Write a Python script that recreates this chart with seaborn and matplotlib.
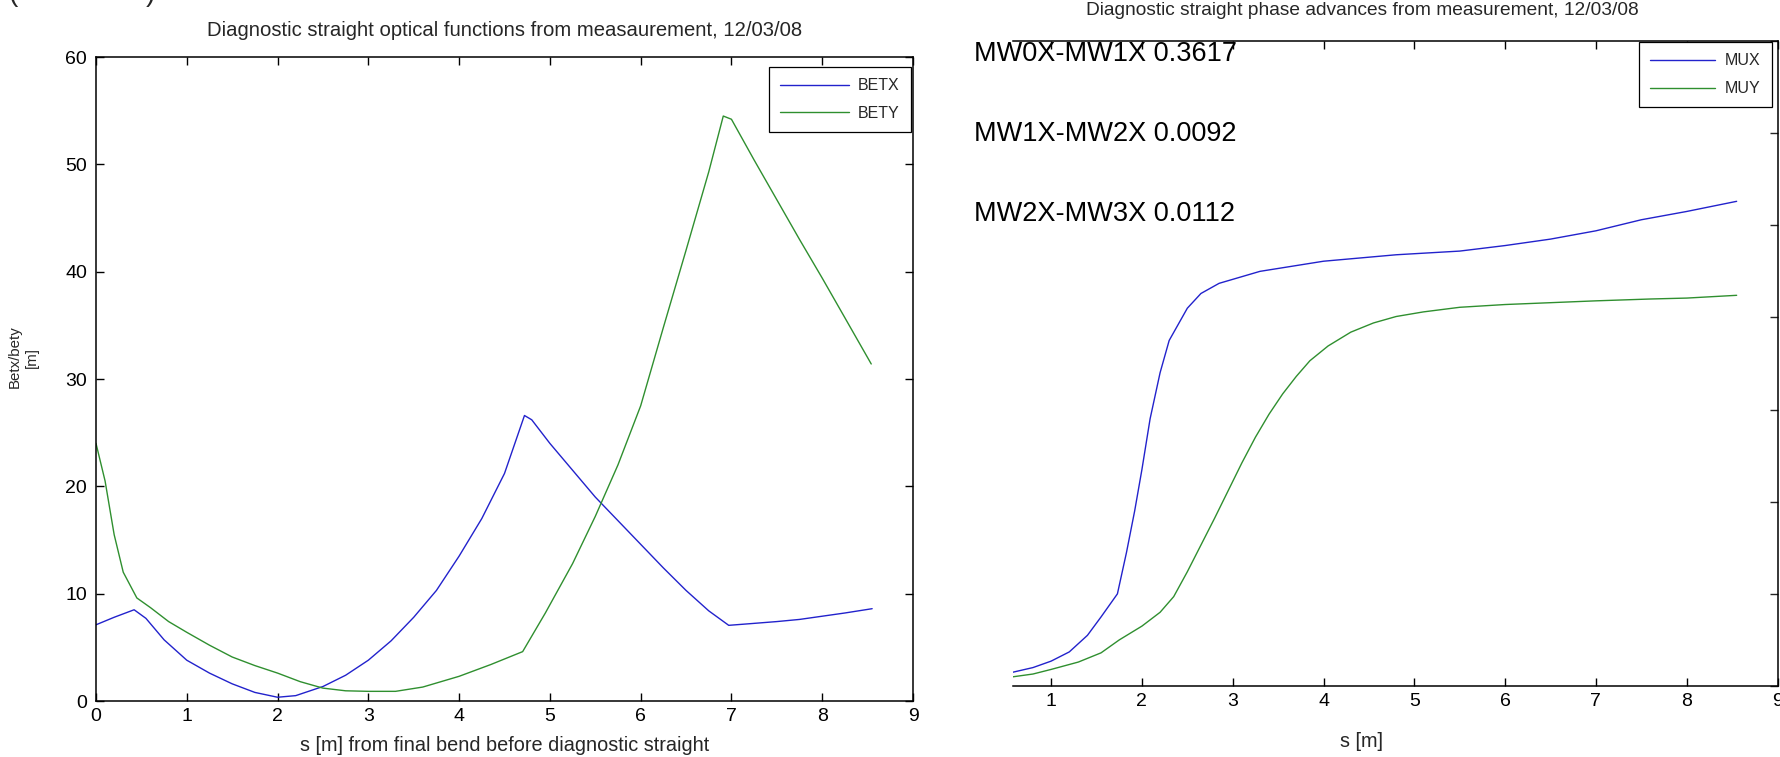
import matplotlib
matplotlib.use("Agg")
import matplotlib.pyplot as plt
import seaborn as sns

# optical functions (left panel)
s_betx = [0.0, 0.2, 0.42, 0.55, 0.75, 1.0, 1.25, 1.5, 1.75, 2.0, 2.2, 2.5, 2.75, 3.0, 3.25,
          3.5, 3.75, 4.0, 4.25, 4.5, 4.72, 4.8, 5.0, 5.25, 5.5, 5.75, 6.0, 6.25, 6.5, 6.75,
          6.97, 7.2, 7.5, 7.75, 8.0, 8.25, 8.55]
betx = [7.1, 7.8, 8.5, 7.7, 5.7, 3.8, 2.6, 1.6, 0.8, 0.35, 0.5, 1.35, 2.4, 3.8, 5.6,
        7.8, 10.3, 13.5, 17.0, 21.2, 26.6, 26.2, 24.0, 21.5, 19.0, 16.8, 14.6, 12.4, 10.3, 8.4,
        7.05, 7.2, 7.4, 7.6, 7.9, 8.2, 8.6]

s_bety = [0.0, 0.1, 0.2, 0.3, 0.45, 0.6, 0.8, 1.0, 1.25, 1.5, 1.75, 2.0, 2.25, 2.5, 2.75,
          3.0, 3.3, 3.6, 4.0, 4.35, 4.7, 4.95, 5.25, 5.5, 5.75, 6.0, 6.25, 6.5, 6.75, 6.91,
          7.0, 7.25, 7.5, 7.75, 8.0, 8.25, 8.54]
bety = [24.0, 20.5, 15.5, 12.0, 9.6, 8.7, 7.4, 6.4, 5.2, 4.1, 3.3, 2.6, 1.8, 1.2, 0.95,
        0.9, 0.9, 1.3, 2.3, 3.4, 4.6, 8.2, 12.8, 17.2, 22.0, 27.5, 34.8, 42.0, 49.3, 54.5,
        54.2, 50.4, 46.7, 43.0, 39.4, 35.7, 31.4]

# phase advances (right panel)
s_mux = [0.58, 0.8, 1.0, 1.2, 1.4, 1.55, 1.73, 1.83, 1.92, 2.0, 2.09, 2.2, 2.3, 2.5, 2.65,
         2.85, 3.3, 4.0, 4.8, 5.5, 6.0, 6.5, 7.0, 7.5, 8.0, 8.55]
mux = [0.015, 0.020, 0.027, 0.037, 0.055, 0.075, 0.10, 0.145, 0.19, 0.235, 0.29, 0.34, 0.375,
       0.41, 0.426, 0.437, 0.45, 0.461, 0.468, 0.472, 0.478, 0.485, 0.494, 0.506, 0.515, 0.526]

s_muy = [0.58, 0.8, 1.0, 1.3, 1.55, 1.75, 2.0, 2.2, 2.35, 2.5, 2.65, 2.8, 2.95, 3.1, 3.25,
         3.4, 3.55, 3.7, 3.85, 4.05, 4.3, 4.55, 4.8, 5.1, 5.5, 6.0, 6.5, 7.0, 7.6, 8.0, 8.55]
muy = [0.010, 0.013, 0.018, 0.026, 0.036, 0.05, 0.065, 0.08, 0.097, 0.124, 0.153, 0.182,
       0.212, 0.242, 0.27, 0.295, 0.317, 0.336, 0.353, 0.369, 0.384, 0.394, 0.401, 0.406,
       0.411, 0.414, 0.416, 0.418, 0.42, 0.421, 0.424]

phase_notes = ["MW0X-MW1X 0.3617", "MW1X-MW2X 0.0092", "MW2X-MW3X 0.0112"]

BLUE = "#2222cc"
GREEN = "#2f8f2f"

sns.set_theme(style="white")
plt.rcParams["font.family"] = ["Liberation Sans", "DejaVu Sans"]
plt.rcParams["axes.edgecolor"] = "black"
plt.rcParams["axes.linewidth"] = 1.1

fig = plt.figure(figsize=(17.8, 7.57), dpi=100)
ax1 = fig.add_axes([96 / 1780, 1 - 701 / 757, 817 / 1780, 644 / 757])
ax2 = fig.add_axes([1013 / 1780, 1 - 686 / 757, 764.5 / 1780, 645 / 757])

# ---- left: beta functions
sns.lineplot(x=s_betx, y=betx, ax=ax1, color=BLUE, lw=1.0, label="BETX")
sns.lineplot(x=s_bety, y=bety, ax=ax1, color=GREEN, lw=1.0, label="BETY")
ax1.set_xlim(0, 9)
ax1.set_ylim(0, 60)
ax1.set_xticks(range(0, 10))
ax1.set_yticks(range(0, 61, 10))
ax1.tick_params(direction="in", top=True, right=True, bottom=True, left=True,
                length=6, width=1, labelsize=14, colors="black")
ax1.tick_params(axis="y", pad=6.5)
ax1.tick_params(axis="x", pad=5)
ax1.set_title("Diagnostic straight optical functions from measaurement, 12/03/08",
              fontsize=14.6, pad=15)
ax1.set_xlabel("s [m] from final bend before diagnostic straight", fontsize=14.3, labelpad=8)
ax1.set_ylabel("Betx/bety\n[m]", fontsize=10.8, linespacing=1.25)
ax1.yaxis.set_label_coords(-0.070, 0.534)
leg1 = ax1.legend(loc="upper right", bbox_to_anchor=(0.9976, 0.9845), borderaxespad=0,
                  fontsize=11.5, handlelength=4.3, handletextpad=0.6, borderpad=0.7,
                  labelspacing=0.8, fancybox=False, framealpha=1, edgecolor="black")
leg1.get_frame().set_linewidth(0.9)

# ---- right: phase advances (left part of the panel is cut away)
sns.lineplot(x=s_mux, y=mux, ax=ax2, color=BLUE, lw=1.0, label="MUX")
sns.lineplot(x=s_muy, y=muy, ax=ax2, color=GREEN, lw=1.0, label="MUY")
ax2.set_xlim(0.58, 9)
ax2.set_ylim(0, 0.7)
ax2.set_xticks(range(1, 10))
ax2.set_yticks([i / 10 for i in range(8)])
ax2.spines["left"].set_visible(False)
ax2.tick_params(axis="x", direction="in", top=True, bottom=True, length=6, width=1,
                labelsize=14, pad=5, colors="black")
ax2.tick_params(axis="y", direction="in", left=False, right=True, labelleft=False,
                labelright=False, length=6, width=1)
ax2.set_title("Diagnostic straight phase advances from measurement, 12/03/08",
              fontsize=13.8, pad=18.5, x=(1362 - 1013) / 764.5)
ax2.set_xlabel("s [m]", fontsize=14.3)
ax2.xaxis.set_label_coords((1362 - 1013) / 764.5, -0.071)
ax2.set_ylabel("")
leg2 = ax2.legend(loc="upper right", bbox_to_anchor=(0.9928, 0.998), borderaxespad=0,
                  fontsize=11.5, handlelength=4.1, handletextpad=0.6, borderpad=0.7,
                  labelspacing=0.8, fancybox=False, framealpha=1, edgecolor="black")
leg2.get_frame().set_linewidth(0.9)

for i, note in enumerate(phase_notes):
    fig.text(974 / 1780, 1 - (61 + 80 * i) / 757, note, fontsize=19.5,
             va="baseline", ha="left", color="black")

# cut-off caption at the very top
fig.text(8 / 1780, 1 - 1 / 757, "(", fontsize=20, va="baseline", ha="left")
fig.text(146 / 1780, 1 - 1 / 757, ")", fontsize=20, va="baseline", ha="left")

fig.savefig("out.png", dpi=100, facecolor="white")
